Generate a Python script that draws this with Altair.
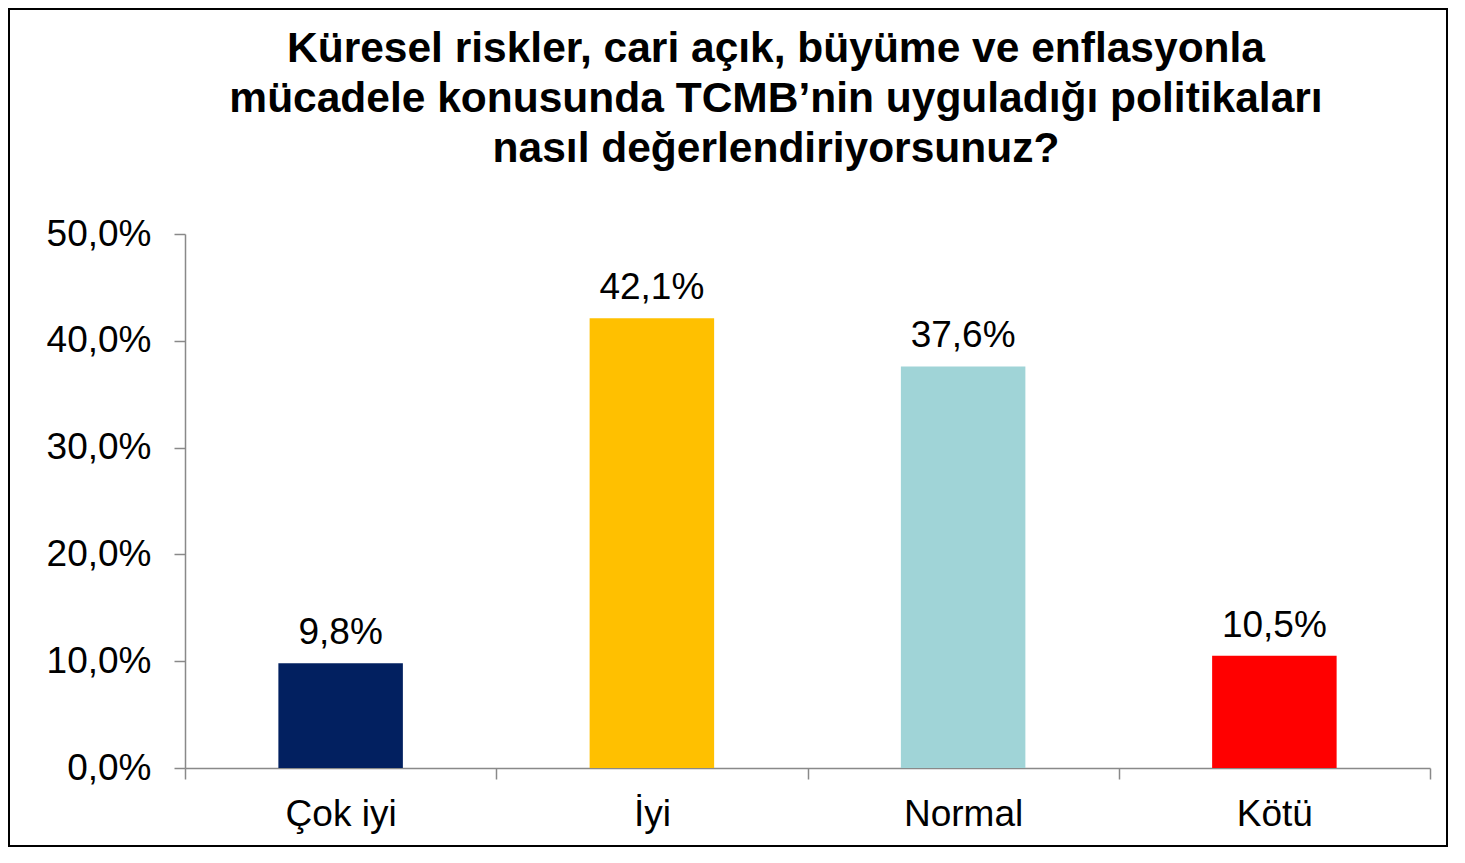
import altair as alt
import pandas as pd

categories = ["Çok iyi", "İyi", "Normal", "Kötü"]
values = [0.098, 0.421, 0.376, 0.105]
colors = ["#022060", "#FFC000", "#A0D4D7", "#FF0000"]
title_lines = [
    "Küresel riskler, cari açık, büyüme ve enflasyonla",
    "mücadele konusunda TCMB’nin uyguladığı politikaları",
    "nasıl değerlendiriyorsunuz?",
]

df = pd.DataFrame({"cat": categories, "val": values})

FONT = "Liberation Sans"
AXIS_COLOR = "#898989"
FS = 37

x_enc = alt.X(
    "cat:N",
    sort=categories,
    scale=alt.Scale(paddingInner=0, paddingOuter=0),
    axis=alt.Axis(
        title=None,
        labelAngle=0,
        labelFont=FONT,
        labelFontSize=FS,
        labelColor="black",
        labelPadding=17,
        tickBand="extent",
        tickSize=11,
        tickColor=AXIS_COLOR,
        tickWidth=1.5,
        domainColor=AXIS_COLOR,
        domainWidth=1.5,
        grid=False,
    ),
)
y_enc = alt.Y(
    "val:Q",
    scale=alt.Scale(domain=[0, 0.5], nice=False),
    axis=alt.Axis(
        title=None,
        values=[0, 0.1, 0.2, 0.3, 0.4, 0.5],
        labelExpr="replace(format(datum.value, '.1%'), '.', ',')",
        labelFont=FONT,
        labelFontSize=FS,
        labelColor="black",
        labelPadding=23,
        tickSize=11,
        tickColor=AXIS_COLOR,
        tickWidth=1.5,
        domainColor=AXIS_COLOR,
        domainWidth=1.5,
        grid=False,
    ),
)

base = alt.Chart(df)

bars = base.mark_bar(width=alt.RelativeBandSize(0.4)).encode(
    x=x_enc,
    y=y_enc,
    color=alt.Color(
        "cat:N",
        scale=alt.Scale(domain=categories, range=colors),
        legend=None,
    ),
)

labels = base.transform_calculate(
    lbl="replace(format(datum.val, '.1%'), '.', ',')"
).mark_text(
    font=FONT, fontSize=FS, color="black", baseline="alphabetic", dy=-19
).encode(
    x=alt.X("cat:N", sort=categories),
    y=alt.Y("val:Q"),
    text="lbl:N",
)

single = alt.Data(values=[{"a": 1}])

title = alt.Chart(single).mark_text(
    font=FONT,
    fontSize=42.5,
    fontWeight="bold",
    color="black",
    align="center",
    baseline="alphabetic",
    lineHeight=50,
).encode(
    x=alt.value(591),
    y=alt.value(-172),
    text=alt.value(title_lines),
)

border = alt.Chart(single).mark_rect(
    filled=False, stroke="black", strokeWidth=2, clip=False
).encode(
    x=alt.value(-176),
    x2=alt.value(1262),
    y=alt.value(-225),
    y2=alt.value(612),
)

chart = (
    alt.layer(bars, labels, title, border)
    .properties(
        width=1245,
        height=534,
        autosize=alt.AutoSizeParams(type="none"),
        padding={"left": 177, "top": 226, "right": 26, "bottom": 86},
        view=alt.ViewBackground(stroke="transparent", strokeWidth=0),
    )
    .configure_view(strokeWidth=0, stroke="transparent")
    .configure(
        background="white",
        style={"cell": {"stroke": "transparent", "strokeWidth": 0}},
    )
)

chart.save("out.html", embed_options={"renderer": "svg", "actions": False})
